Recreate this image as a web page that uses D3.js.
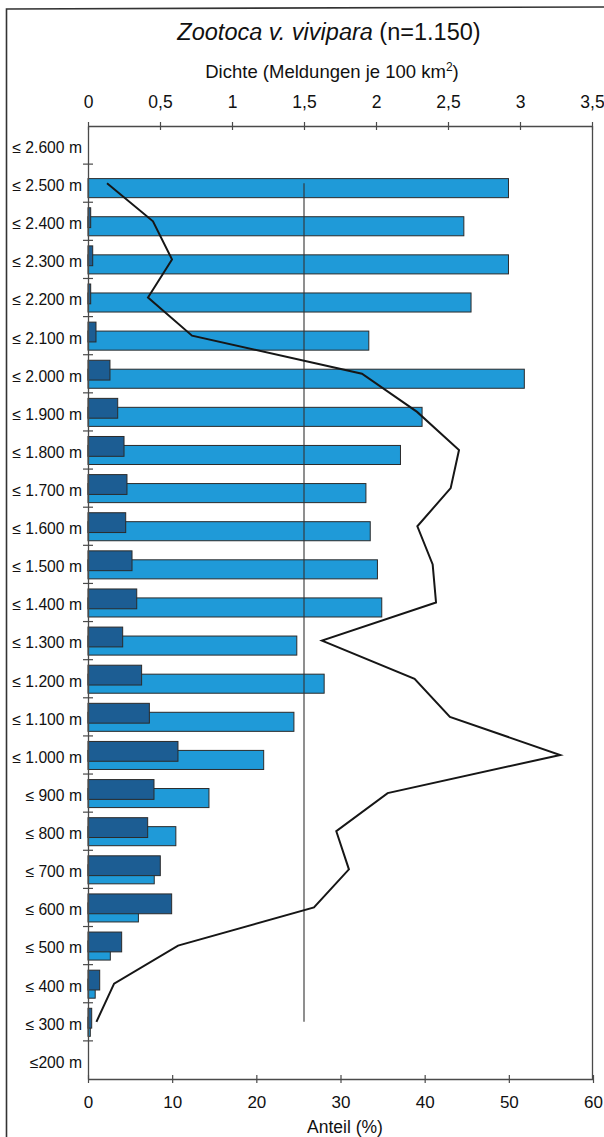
<!DOCTYPE html>
<html>
<head>
<meta charset="utf-8">
<script src="https://cdn.jsdelivr.net/npm/d3@7"></script>
<style>
  body { margin: 0; background: #fff; }
  svg { display: block; font-family: "Liberation Sans", Arial, sans-serif; }
</style>
</head>
<body>
<svg id="chart" width="604" height="1137"></svg>
<script>
// Höhenstufen (obere Grenze jeder 100-m-Stufe)
const hoehenstufen = [
  "≤ 2.600 m", "≤ 2.500 m", "≤ 2.400 m", "≤ 2.300 m", "≤ 2.200 m",
  "≤ 2.100 m", "≤ 2.000 m", "≤ 1.900 m", "≤ 1.800 m", "≤ 1.700 m",
  "≤ 1.600 m", "≤ 1.500 m", "≤ 1.400 m", "≤ 1.300 m", "≤ 1.200 m",
  "≤ 1.100 m", "≤ 1.000 m", "≤ 900 m", "≤ 800 m", "≤ 700 m",
  "≤ 600 m", "≤ 500 m", "≤ 400 m", "≤ 300 m", "≤200 m"
];

// Anteil der Meldungen je Höhenstufe (%), dunkle Balken, untere Achse
const anteilMeldungen = [
  null, 0, 0.32, 0.56, 0.32,
  0.95, 2.61, 3.53, 4.28, 4.63,
  4.48, 5.23, 5.79, 4.12, 6.37,
  7.29, 10.69, 7.84, 7.09, 8.59,
  9.94, 4.0, 1.39, 0.44, null
];

// Dichte (Meldungen je 100 km²), helle Balken, obere Achse
const dichte = [
  null, 2.92, 2.61, 2.92, 2.66,
  1.95, 3.03, 2.32, 2.17, 1.93,
  1.96, 2.01, 2.04, 1.45, 1.64,
  1.43, 1.22, 0.84, 0.61, 0.46,
  0.35, 0.155, 0.05, 0.016, null
];

// Anteil (%) als Linie, untere Achse
const anteilLinie = [
  null, 2.26, 7.72, 9.98, 7.13,
  12.36, 32.55, 39.1, 44.08, 43.09,
  39.13, 40.95, 41.35, 27.8, 38.8,
  43.0, 56.1, 35.6, 29.5, 31.0,
  26.85, 10.7, 3.1, 1.0, null
];

// mittlere Dichte (senkrechte Linie)
const mittlereDichte = 1.5;

const dichteTicks = [0, 0.5, 1, 1.5, 2, 2.5, 3, 3.5];
const dichteTickLabels = ["0", "0,5", "1", "1,5", "2", "2,5", "3", "3,5"];
const anteilTicks = [0, 10, 20, 30, 40, 50, 60];
const anteilTickLabels = ["0", "10", "20", "30", "40", "50", "60"];

const svg = d3.select("#chart");
const plot = { left: 88, right: 592.5, top: 126, bottom: 1079 };

const y = d3.scaleBand().domain(hoehenstufen)
  .range([plot.top, plot.bottom]).paddingInner(0).paddingOuter(0);
const bw = y.bandwidth();
const xDichte = d3.scaleLinear().domain([0, 3.5]).range([plot.left, 592]);
const xAnteil = d3.scaleLinear().domain([0, 60]).range([plot.left, 593]);

const axisColor = "#4a4a4a";
const lightBlue = "#1f9ad8";
const darkBlue = "#1c5d93";
const barStroke = "#2b2b2b";
const font = "Liberation Sans, Arial, sans-serif";

// Rahmen (oben und links)
svg.append("path")
  .attr("d", "M6.5,1137 L6.5,9 L604,7")
  .attr("fill", "none").attr("stroke", "#333").attr("stroke-width", 1.6);

// Titel
const title = svg.append("text")
  .attr("x", 329).attr("y", 40)
  .attr("text-anchor", "middle")
  .attr("font-size", 23.5).attr("fill", "#111");
title.append("tspan").attr("font-style", "italic").text("Zootoca v. vivipara");
title.append("tspan").text(" (n=1.150)");

// Achsentitel oben
const topTitle = svg.append("text")
  .attr("x", 332).attr("y", 78)
  .attr("text-anchor", "middle")
  .attr("font-size", 18.5).attr("fill", "#111");
topTitle.append("tspan").text("Dichte (Meldungen je 100 km");
topTitle.append("tspan").attr("font-size", 12).attr("dy", -7).text("2");
topTitle.append("tspan").attr("dy", 7).text(")");

// helle Balken: Dichte
svg.append("g").selectAll("rect")
  .data(hoehenstufen.map((h, i) => ({ h, v: dichte[i] })).filter(d => d.v))
  .join("rect")
  .attr("x", xDichte(0))
  .attr("y", d => y(d.h) + bw * 0.38)
  .attr("width", d => xDichte(d.v) - xDichte(0))
  .attr("height", bw * 0.5)
  .attr("fill", lightBlue)
  .attr("stroke", barStroke).attr("stroke-width", 1);

// dunkle Balken: Anteil der Meldungen
svg.append("g").selectAll("rect")
  .data(hoehenstufen.map((h, i) => ({ h, v: anteilMeldungen[i] })).filter(d => d.v))
  .join("rect")
  .attr("x", xAnteil(0))
  .attr("y", d => y(d.h) + bw * 0.145)
  .attr("width", d => xAnteil(d.v) - xAnteil(0))
  .attr("height", bw * 0.52)
  .attr("fill", darkBlue)
  .attr("stroke", barStroke).attr("stroke-width", 1);

// senkrechte Linie: mittlere Dichte
svg.append("line")
  .attr("x1", xDichte(mittlereDichte)).attr("x2", xDichte(mittlereDichte))
  .attr("y1", y(hoehenstufen[1]) + bw / 2)
  .attr("y2", y(hoehenstufen[23]) + bw / 2)
  .attr("stroke", "#333").attr("stroke-width", 1.1);

// Linie: Anteil (%)
const linie = d3.line()
  .defined(d => d.v != null)
  .x(d => xAnteil(d.v))
  .y(d => y(d.h) + bw / 2);
svg.append("path")
  .datum(hoehenstufen.map((h, i) => ({ h, v: anteilLinie[i] })))
  .attr("d", linie)
  .attr("fill", "none")
  .attr("stroke", "#161616").attr("stroke-width", 2)
  .attr("stroke-linejoin", "miter");

// obere Achse (Dichte)
const topAxis = svg.append("g")
  .attr("transform", `translate(0,${plot.top})`)
  .call(d3.axisTop(xDichte).tickValues(dichteTicks)
    .tickFormat((d, i) => dichteTickLabels[i]).tickSizeInner(4).tickSizeOuter(0));
topAxis.select(".domain").attr("stroke", axisColor).attr("stroke-width", 1.3);
topAxis.selectAll(".tick line").attr("y1", 4).attr("y2", -4)
  .attr("stroke", axisColor).attr("stroke-width", 1.2);
topAxis.selectAll(".tick text").attr("y", -18).attr("dy", null)
  .attr("font-size", 17.5).attr("fill", "#111")
  .attr("font-family", font);

// untere Achse (Anteil)
const bottomAxis = svg.append("g")
  .attr("transform", `translate(0,${plot.bottom})`)
  .call(d3.axisBottom(xAnteil).tickValues(anteilTicks)
    .tickFormat((d, i) => anteilTickLabels[i]).tickSizeInner(4).tickSizeOuter(0));
bottomAxis.select(".domain").attr("stroke", axisColor).attr("stroke-width", 1.3);
bottomAxis.selectAll(".tick line").attr("y1", -4).attr("y2", 4)
  .attr("stroke", axisColor).attr("stroke-width", 1.2);
bottomAxis.selectAll(".tick text").attr("y", 29).attr("dy", null)
  .attr("font-size", 17).attr("fill", "#111")
  .attr("font-family", font);

svg.append("text")
  .attr("x", 345).attr("y", 1133)
  .attr("text-anchor", "middle")
  .attr("font-size", 17.5).attr("fill", "#111")
  .text("Anteil (%)");

// linke Achse mit Höhenstufen
const leftAxis = svg.append("g")
  .attr("transform", `translate(${plot.left},0)`)
  .call(d3.axisLeft(y).tickSize(0).tickPadding(6));
leftAxis.select(".domain").attr("stroke", axisColor).attr("stroke-width", 1.3);
leftAxis.selectAll(".tick text")
  .attr("dy", "0.5em")
  .attr("font-size", 15.7).attr("fill", "#111")
  .attr("font-family", font);

// Trennstriche zwischen den Höhenstufen
svg.append("g").selectAll("line")
  .data(hoehenstufen.slice(1))
  .join("line")
  .attr("x1", plot.left - 5).attr("x2", plot.left + 5)
  .attr("y1", d => y(d)).attr("y2", d => y(d))
  .attr("stroke", axisColor).attr("stroke-width", 1.2);

// rechte Begrenzung
svg.append("line")
  .attr("x1", plot.right).attr("x2", plot.right)
  .attr("y1", plot.top).attr("y2", plot.bottom)
  .attr("stroke", axisColor).attr("stroke-width", 1.3);
</script>
</body>
</html>
